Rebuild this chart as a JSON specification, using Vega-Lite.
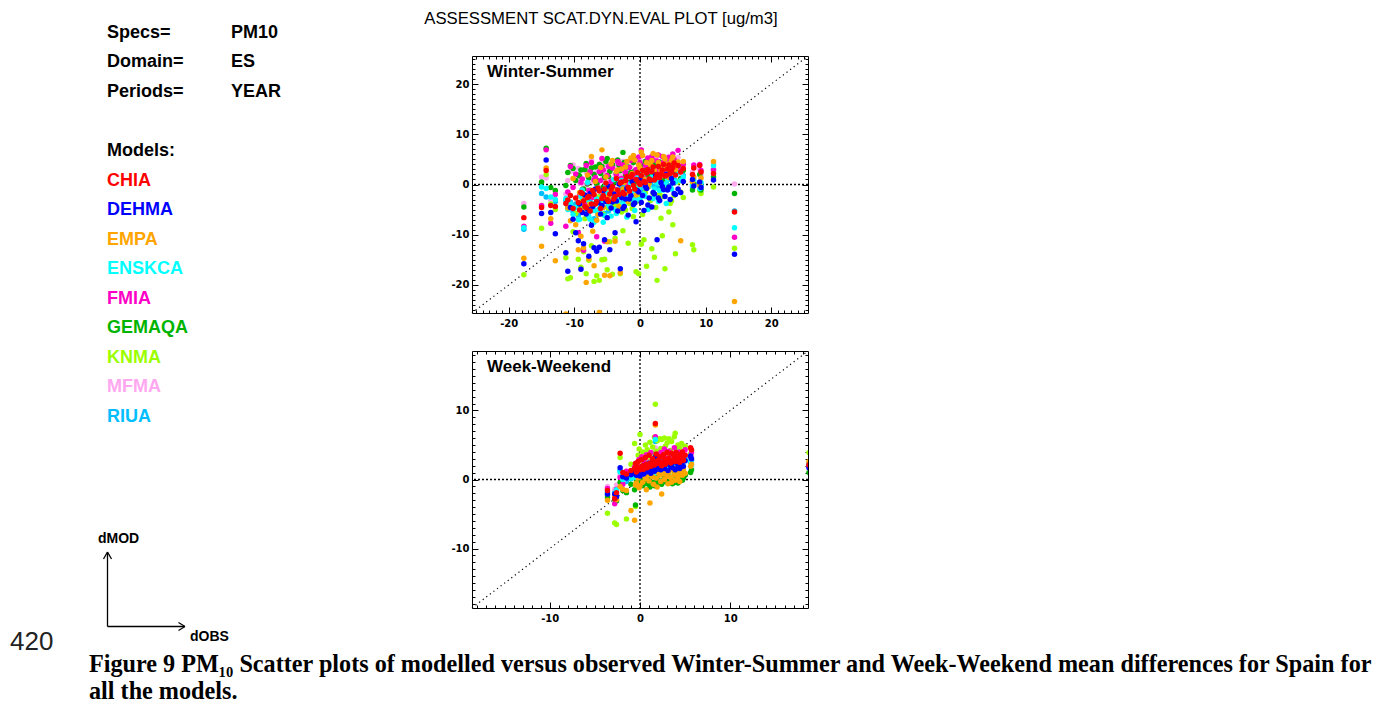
{
"$schema": "https://vega.github.io/schema/vega-lite/v6.json",
"padding": 0,
"bounds": "flush",
"spacing": 42,
"config": {
  "view": {"stroke": "black", "strokeWidth": 1},
  "axis": {"grid": false, "domain": false, "tickColor": "black", "tickWidth": 1, "labelColor": "black", "labelFont": "DejaVu Sans", "labelFontSize": 10, "labelFontWeight": "bold"}
},
"datasets": {
  "ws": [
    {"obs":-17.7,"CHIA":-6.6,"DEHMA":-15.8,"EMPA":-14.7,"ENSKCA":-8.6,"FMIA":-8.3,"GEMAQA":-4.5,"KNMA":-18.0,"MFMA":-3.8,"RIUA":-8.9},
    {"obs":-15.0,"CHIA":-4.6,"DEHMA":-5.8,"EMPA":-12.3,"ENSKCA":-0.5,"FMIA":-4.2,"GEMAQA":0.5,"KNMA":-8.7,"MFMA":1.5,"RIUA":-1.8},
    {"obs":-14.3,"CHIA":2.8,"DEHMA":4.9,"EMPA":3.3,"ENSKCA":-0.8,"FMIA":6.9,"GEMAQA":7.2,"KNMA":2.0,"MFMA":1.3,"RIUA":-2.5},
    {"obs":-13.6,"CHIA":-4.2,"DEHMA":-5.6,"EMPA":-6.8,"ENSKCA":-2.5,"FMIA":-7.7,"GEMAQA":-0.6,"KNMA":-3.9,"MFMA":-3.1,"RIUA":-2.9},
    {"obs":-12.9,"CHIA":-4.4,"DEHMA":-9.8,"EMPA":-15.2,"ENSKCA":-3.0,"FMIA":-2.0,"GEMAQA":-1.2,"KNMA":-5.0,"MFMA":-1.5,"RIUA":-3.4},
    {"obs":-11.3,"CHIA":-3.8,"DEHMA":-13.6,"EMPA":-25.8,"ENSKCA":-2.8,"FMIA":-8.3,"GEMAQA":-0.2,"KNMA":-14.6,"MFMA":-1.9,"RIUA":-3.2},
    {"obs":-11.0,"CHIA":-3.1,"DEHMA":-17.3,"EMPA":-4.7,"ENSKCA":-5.0,"FMIA":-1.5,"GEMAQA":2.4,"KNMA":-18.8,"MFMA":0.8,"RIUA":-4.4},
    {"obs":-10.6,"CHIA":-2.2,"DEHMA":-4.6,"EMPA":-7.2,"ENSKCA":-3.9,"FMIA":3.6,"GEMAQA":3.8,"KNMA":-18.6,"MFMA":2.6,"RIUA":-3.5},
    {"obs":-10.2,"CHIA":-4.8,"DEHMA":-6.9,"EMPA":1.2,"ENSKCA":-6.0,"FMIA":-0.6,"GEMAQA":3.2,"KNMA":-9.4,"MFMA":3.9,"RIUA":-5.4},
    {"obs":-9.8,"CHIA":-2.7,"DEHMA":-9.6,"EMPA":-8.0,"ENSKCA":-4.6,"FMIA":2.1,"GEMAQA":0.8,"KNMA":-5.8,"MFMA":1.4,"RIUA":-3.9},
    {"obs":-9.4,"CHIA":-3.6,"DEHMA":-11.2,"EMPA":-13.0,"ENSKCA":-7.0,"FMIA":-9.6,"GEMAQA":1.9,"KNMA":-14.9,"MFMA":3.2,"RIUA":-6.2},
    {"obs":-9.0,"CHIA":-1.6,"DEHMA":-16.9,"EMPA":-10.3,"ENSKCA":-2.4,"FMIA":0.4,"GEMAQA":2.9,"KNMA":-16.5,"MFMA":1.0,"RIUA":-2.0},
    {"obs":-8.6,"CHIA":-3.3,"DEHMA":-11.8,"EMPA":-12.6,"ENSKCA":-5.2,"FMIA":-13.1,"GEMAQA":-0.9,"KNMA":-13.4,"MFMA":-0.2,"RIUA":-4.8},
    {"obs":-8.2,"CHIA":-4.6,"DEHMA":-5.9,"EMPA":-19.5,"ENSKCA":-3.0,"FMIA":3.8,"GEMAQA":4.2,"KNMA":-17.8,"MFMA":2.4,"RIUA":-3.7},
    {"obs":-7.8,"CHIA":-2.4,"DEHMA":-14.3,"EMPA":-14.8,"ENSKCA":-6.4,"FMIA":-1.2,"GEMAQA":1.3,"KNMA":-15.1,"MFMA":3.0,"RIUA":-5.6},
    {"obs":-7.4,"CHIA":-3.9,"DEHMA":-8.1,"EMPA":5.6,"ENSKCA":-4.1,"FMIA":4.4,"GEMAQA":3.3,"KNMA":-12.2,"MFMA":4.8,"RIUA":-4.3},
    {"obs":-7.0,"CHIA":-2.0,"DEHMA":-12.6,"EMPA":-16.2,"ENSKCA":-7.5,"FMIA":0.9,"GEMAQA":2.0,"KNMA":-19.3,"MFMA":1.8,"RIUA":-6.8},
    {"obs":-6.6,"CHIA":-3.4,"DEHMA":-13.3,"EMPA":-7.1,"ENSKCA":-2.9,"FMIA":-10.4,"GEMAQA":0.2,"KNMA":-18.2,"MFMA":0.6,"RIUA":-3.1},
    {"obs":-6.2,"CHIA":-1.3,"DEHMA":-12.5,"EMPA":-25.5,"ENSKCA":-5.5,"FMIA":2.6,"GEMAQA":4.0,"KNMA":-19.1,"MFMA":3.5,"RIUA":-4.9},
    {"obs":-5.8,"CHIA":-2.8,"DEHMA":-4.2,"EMPA":6.9,"ENSKCA":-3.6,"FMIA":5.2,"GEMAQA":3.6,"KNMA":-15.0,"MFMA":4.1,"RIUA":-3.2},
    {"obs":-5.4,"CHIA":-0.9,"DEHMA":-11.0,"EMPA":-18.1,"ENSKCA":-6.2,"FMIA":-11.3,"GEMAQA":1.4,"KNMA":-14.9,"MFMA":2.2,"RIUA":-5.8},
    {"obs":-5.0,"CHIA":-3.0,"DEHMA":-6.6,"EMPA":-11.4,"ENSKCA":-1.9,"FMIA":1.8,"GEMAQA":5.2,"KNMA":-17.0,"MFMA":3.9,"RIUA":-2.3},
    {"obs":-4.6,"CHIA":-1.9,"DEHMA":-13.0,"EMPA":-18.2,"ENSKCA":-4.4,"FMIA":0.0,"GEMAQA":2.6,"KNMA":-11.4,"MFMA":1.2,"RIUA":-4.0},
    {"obs":-4.2,"CHIA":-0.4,"DEHMA":-3.5,"EMPA":4.8,"ENSKCA":-2.6,"FMIA":3.3,"GEMAQA":3.9,"KNMA":-17.9,"MFMA":4.4,"RIUA":-2.9},
    {"obs":-3.8,"CHIA":-2.4,"DEHMA":-9.6,"EMPA":-11.3,"ENSKCA":-5.0,"FMIA":-1.4,"GEMAQA":0.9,"KNMA":-10.7,"MFMA":2.0,"RIUA":-4.6},
    {"obs":-3.4,"CHIA":-1.1,"DEHMA":-5.3,"EMPA":2.9,"ENSKCA":-3.3,"FMIA":4.6,"GEMAQA":4.9,"KNMA":-3.6,"MFMA":3.1,"RIUA":-2.7},
    {"obs":-3.0,"CHIA":0.3,"DEHMA":-16.8,"EMPA":-17.6,"ENSKCA":-1.5,"FMIA":1.1,"GEMAQA":2.8,"KNMA":-17.8,"MFMA":1.9,"RIUA":-1.2},
    {"obs":-2.6,"CHIA":-1.6,"DEHMA":-4.8,"EMPA":-0.9,"ENSKCA":-3.9,"FMIA":3.9,"GEMAQA":6.4,"KNMA":-9.2,"MFMA":4.6,"RIUA":-3.5},
    {"obs":-2.2,"CHIA":0.8,"DEHMA":-2.9,"EMPA":3.5,"ENSKCA":-1.0,"FMIA":2.4,"GEMAQA":1.8,"KNMA":-5.1,"MFMA":2.8,"RIUA":-0.6},
    {"obs":-1.8,"CHIA":-0.6,"DEHMA":-6.1,"EMPA":-3.4,"ENSKCA":-2.5,"FMIA":-0.8,"GEMAQA":3.5,"KNMA":-11.7,"MFMA":0.7,"RIUA":-2.2},
    {"obs":-1.4,"CHIA":1.5,"DEHMA":-2.2,"EMPA":5.3,"ENSKCA":0.2,"FMIA":4.8,"GEMAQA":2.4,"KNMA":-2.8,"MFMA":3.6,"RIUA":0.6},
    {"obs":-1.0,"CHIA":-0.2,"DEHMA":-4.0,"EMPA":5.8,"ENSKCA":-1.6,"FMIA":1.6,"GEMAQA":4.4,"KNMA":-6.4,"MFMA":2.5,"RIUA":-1.3},
    {"obs":-0.6,"CHIA":1.0,"DEHMA":-7.4,"EMPA":-2.1,"ENSKCA":-3.0,"FMIA":3.0,"GEMAQA":0.6,"KNMA":-17.4,"MFMA":1.6,"RIUA":-2.6},
    {"obs":-0.2,"CHIA":0.4,"DEHMA":-1.5,"EMPA":3.9,"ENSKCA":-0.7,"FMIA":5.5,"GEMAQA":2.2,"KNMA":-17.8,"MFMA":4.3,"RIUA":-0.3},
    {"obs":0.2,"CHIA":1.8,"DEHMA":-3.6,"EMPA":6.5,"ENSKCA":0.6,"FMIA":6.9,"GEMAQA":3.9,"KNMA":-11.9,"MFMA":2.9,"RIUA":0.9},
    {"obs":0.6,"CHIA":0.6,"DEHMA":-5.2,"EMPA":1.1,"ENSKCA":-1.9,"FMIA":2.0,"GEMAQA":1.3,"KNMA":-11.0,"MFMA":1.0,"RIUA":-1.5},
    {"obs":1.0,"CHIA":2.3,"DEHMA":-0.8,"EMPA":4.4,"ENSKCA":0.9,"FMIA":4.1,"GEMAQA":3.0,"KNMA":-16.3,"MFMA":4.9,"RIUA":1.2},
    {"obs":1.4,"CHIA":1.1,"DEHMA":-2.7,"EMPA":0.2,"ENSKCA":-0.4,"FMIA":3.5,"GEMAQA":5.0,"KNMA":-4.6,"MFMA":2.2,"RIUA":0.0},
    {"obs":1.8,"CHIA":2.6,"DEHMA":-4.5,"EMPA":4.8,"ENSKCA":1.4,"FMIA":5.6,"GEMAQA":2.5,"KNMA":-12.8,"MFMA":4.8,"RIUA":1.7},
    {"obs":2.2,"CHIA":0.9,"DEHMA":-1.9,"EMPA":2.7,"ENSKCA":-0.9,"FMIA":1.3,"GEMAQA":3.8,"KNMA":-14.5,"MFMA":3.3,"RIUA":-0.5},
    {"obs":2.6,"CHIA":2.0,"DEHMA":-11.0,"EMPA":5.9,"ENSKCA":0.3,"FMIA":4.7,"GEMAQA":1.6,"KNMA":-19.1,"MFMA":2.1,"RIUA":0.6},
    {"obs":3.0,"CHIA":1.4,"DEHMA":-3.2,"EMPA":3.6,"ENSKCA":-1.2,"FMIA":2.8,"GEMAQA":4.5,"KNMA":-2.0,"MFMA":4.0,"RIUA":-0.8},
    {"obs":3.4,"CHIA":2.9,"DEHMA":-0.4,"EMPA":1.9,"ENSKCA":1.8,"FMIA":5.6,"GEMAQA":2.9,"KNMA":-10.2,"MFMA":3.2,"RIUA":2.1},
    {"obs":3.8,"CHIA":1.7,"DEHMA":-2.4,"EMPA":5.1,"ENSKCA":0.1,"FMIA":3.7,"GEMAQA":1.0,"KNMA":-16.8,"MFMA":1.5,"RIUA":0.4},
    {"obs":4.2,"CHIA":3.1,"DEHMA":-1.1,"EMPA":4.1,"ENSKCA":1.0,"FMIA":4.9,"GEMAQA":3.3,"KNMA":1.2,"MFMA":5.2,"RIUA":1.4},
    {"obs":4.6,"CHIA":2.2,"DEHMA":-3.0,"EMPA":2.3,"ENSKCA":-0.6,"FMIA":2.2,"GEMAQA":4.1,"KNMA":-3.8,"MFMA":2.7,"RIUA":-0.2},
    {"obs":5.0,"CHIA":3.4,"DEHMA":0.3,"EMPA":5.5,"ENSKCA":1.9,"FMIA":6.1,"GEMAQA":1.9,"KNMA":-8.0,"MFMA":4.4,"RIUA":2.3},
    {"obs":5.4,"CHIA":1.9,"DEHMA":-2.0,"EMPA":3.0,"ENSKCA":0.5,"FMIA":3.6,"GEMAQA":2.6,"KNMA":-13.8,"MFMA":3.8,"RIUA":0.8},
    {"obs":5.8,"CHIA":3.8,"DEHMA":-0.9,"EMPA":4.5,"ENSKCA":2.4,"FMIA":6.8,"GEMAQA":3.7,"KNMA":0.5,"MFMA":5.4,"RIUA":2.6},
    {"obs":6.2,"CHIA":2.5,"DEHMA":-1.6,"EMPA":-11.2,"ENSKCA":0.8,"FMIA":2.9,"GEMAQA":1.2,"KNMA":-1.5,"MFMA":2.0,"RIUA":1.1},
    {"obs":6.6,"CHIA":3.2,"DEHMA":0.6,"EMPA":4.6,"ENSKCA":1.5,"FMIA":4.0,"GEMAQA":2.8,"KNMA":-2.6,"MFMA":4.3,"RIUA":1.8},
    {"obs":8.0,"CHIA":2.0,"DEHMA":1.0,"EMPA":0.5,"ENSKCA":0.0,"FMIA":0.6,"GEMAQA":-1.1,"KNMA":-12.0,"MFMA":2.5,"RIUA":-0.4},
    {"obs":8.2,"CHIA":3.3,"DEHMA":-0.3,"EMPA":1.5,"ENSKCA":0.9,"FMIA":3.9,"GEMAQA":0.2,"KNMA":-13.0,"MFMA":3.5,"RIUA":0.3},
    {"obs":9.1,"CHIA":3.8,"DEHMA":0.5,"EMPA":-0.2,"ENSKCA":-0.8,"FMIA":4.0,"GEMAQA":2.0,"KNMA":-1.2,"MFMA":3.0,"RIUA":0.2},
    {"obs":9.3,"CHIA":2.5,"DEHMA":-0.6,"EMPA":1.3,"ENSKCA":0.4,"FMIA":2.8,"GEMAQA":-1.1,"KNMA":-1.8,"MFMA":1.9,"RIUA":-0.1},
    {"obs":11.2,"CHIA":2.2,"DEHMA":0.9,"EMPA":4.6,"ENSKCA":3.8,"FMIA":2.9,"GEMAQA":1.5,"KNMA":-0.5,"MFMA":4.1,"RIUA":3.0},
    {"obs":14.4,"CHIA":-5.5,"DEHMA":-13.9,"EMPA":-23.3,"ENSKCA":-8.6,"FMIA":-10.5,"GEMAQA":-1.8,"KNMA":-12.7,"MFMA":0.1,"RIUA":-5.3},
    {"obs":-9.2,"CHIA":-5.1,"DEHMA":-3.9,"EMPA":-1.6,"ENSKCA":-6.9,"FMIA":-2.0,"GEMAQA":1.7,"KNMA":-4.6,"MFMA":0.4,"RIUA":-4.2},
    {"obs":-8.8,"CHIA":-1.8,"DEHMA":-5.6,"EMPA":-5.3,"ENSKCA":-1.1,"FMIA":1.1,"GEMAQA":-1.0,"KNMA":-2.9,"MFMA":2.9,"RIUA":-5.0},
    {"obs":-8.4,"CHIA":-4.4,"DEHMA":-2.1,"EMPA":-2.8,"ENSKCA":-4.6,"FMIA":-4.0,"GEMAQA":3.0,"KNMA":-6.8,"MFMA":-0.7,"RIUA":-3.1},
    {"obs":-8.0,"CHIA":-2.6,"DEHMA":-4.9,"EMPA":1.9,"ENSKCA":0.4,"FMIA":0.3,"GEMAQA":0.1,"KNMA":-3.9,"MFMA":1.6,"RIUA":-6.4},
    {"obs":-7.6,"CHIA":-5.3,"DEHMA":-1.8,"EMPA":-4.1,"ENSKCA":-6.9,"FMIA":2.5,"GEMAQA":2.5,"KNMA":-1.1,"MFMA":3.7,"RIUA":-2.9},
    {"obs":-7.2,"CHIA":-1.2,"DEHMA":-4.4,"EMPA":-9.3,"ENSKCA":-3.8,"FMIA":-2.6,"GEMAQA":-1.6,"KNMA":-4.4,"MFMA":0.5,"RIUA":-5.2},
    {"obs":-6.8,"CHIA":-3.9,"DEHMA":-0.9,"EMPA":0.6,"ENSKCA":-5.2,"FMIA":1.4,"GEMAQA":3.5,"KNMA":-5.2,"MFMA":2.3,"RIUA":-3.8},
    {"obs":-6.4,"CHIA":-0.7,"DEHMA":-3.6,"EMPA":-6.0,"ENSKCA":-0.7,"FMIA":-3.3,"GEMAQA":0.7,"KNMA":-2.5,"MFMA":-0.4,"RIUA":-6.0},
    {"obs":-6.0,"CHIA":-4.8,"DEHMA":-5.9,"EMPA":3.4,"ENSKCA":-4.4,"FMIA":0.8,"GEMAQA":2.2,"KNMA":-3.0,"MFMA":4.2,"RIUA":-2.4},
    {"obs":-5.6,"CHIA":-2.2,"DEHMA":-1.2,"EMPA":-4.6,"ENSKCA":-7.5,"FMIA":2.9,"GEMAQA":-0.5,"KNMA":-5.9,"MFMA":1.3,"RIUA":-4.5},
    {"obs":-5.2,"CHIA":0.3,"DEHMA":-3.4,"EMPA":1.5,"ENSKCA":0.0,"FMIA":-2.2,"GEMAQA":4.6,"KNMA":-0.8,"MFMA":2.7,"RIUA":-1.6},
    {"obs":-4.8,"CHIA":-3.4,"DEHMA":-0.4,"EMPA":-2.5,"ENSKCA":-4.0,"FMIA":3.6,"GEMAQA":1.6,"KNMA":-4.7,"MFMA":-0.1,"RIUA":-5.3},
    {"obs":-4.4,"CHIA":-1.0,"DEHMA":-4.7,"EMPA":4.1,"ENSKCA":-6.3,"FMIA":0.6,"GEMAQA":3.1,"KNMA":-1.5,"MFMA":3.4,"RIUA":-2.1},
    {"obs":-4.0,"CHIA":-2.9,"DEHMA":-1.9,"EMPA":-1.2,"ENSKCA":1.0,"FMIA":-0.9,"GEMAQA":0.4,"KNMA":-4.2,"MFMA":1.0,"RIUA":-3.6},
    {"obs":-3.6,"CHIA":1.2,"DEHMA":-3.3,"EMPA":2.6,"ENSKCA":-5.8,"FMIA":2.0,"GEMAQA":2.2,"KNMA":-4.0,"MFMA":4.0,"RIUA":-1.0},
    {"obs":-3.2,"CHIA":-2.0,"DEHMA":0.1,"EMPA":-4.4,"ENSKCA":-2.5,"FMIA":4.2,"GEMAQA":3.9,"KNMA":-2.1,"MFMA":2.1,"RIUA":-2.7},
    {"obs":-2.8,"CHIA":0.5,"DEHMA":-2.6,"EMPA":3.1,"ENSKCA":0.8,"FMIA":1.2,"GEMAQA":1.0,"KNMA":-5.5,"MFMA":0.6,"RIUA":-0.4},
    {"obs":-2.4,"CHIA":-1.9,"DEHMA":-4.4,"EMPA":0.4,"ENSKCA":-4.3,"FMIA":2.8,"GEMAQA":4.4,"KNMA":-2.4,"MFMA":3.9,"RIUA":-3.0},
    {"obs":-2.0,"CHIA":1.6,"DEHMA":-0.8,"EMPA":4.6,"ENSKCA":-6.5,"FMIA":0.2,"GEMAQA":2.1,"KNMA":-1.3,"MFMA":1.5,"RIUA":-1.9},
    {"obs":-1.6,"CHIA":-1.3,"DEHMA":-2.9,"EMPA":-1.8,"ENSKCA":1.5,"FMIA":3.4,"GEMAQA":0.4,"KNMA":-3.8,"MFMA":2.6,"RIUA":0.1},
    {"obs":-1.2,"CHIA":2.0,"DEHMA":0.6,"EMPA":2.2,"ENSKCA":-3.2,"FMIA":1.5,"GEMAQA":5.1,"KNMA":-4.8,"MFMA":4.2,"RIUA":-1.4},
    {"obs":-0.8,"CHIA":-0.9,"DEHMA":-3.7,"EMPA":4.9,"ENSKCA":-5.2,"FMIA":5.0,"GEMAQA":2.7,"KNMA":-0.5,"MFMA":0.9,"RIUA":-2.5},
    {"obs":-0.4,"CHIA":2.4,"DEHMA":-1.2,"EMPA":0.9,"ENSKCA":1.3,"FMIA":2.3,"GEMAQA":1.1,"KNMA":-3.3,"MFMA":3.0,"RIUA":0.8},
    {"obs":0.0,"CHIA":0.0,"DEHMA":1.0,"EMPA":3.3,"ENSKCA":-3.0,"FMIA":4.4,"GEMAQA":3.6,"KNMA":-2.1,"MFMA":5.1,"RIUA":-0.8},
    {"obs":0.4,"CHIA":2.8,"DEHMA":-2.2,"EMPA":5.8,"ENSKCA":2.2,"FMIA":1.7,"GEMAQA":0.9,"KNMA":-6.0,"MFMA":2.4,"RIUA":1.5},
    {"obs":0.8,"CHIA":0.4,"DEHMA":-0.3,"EMPA":2.5,"ENSKCA":-2.4,"FMIA":3.8,"GEMAQA":4.6,"KNMA":-1.6,"MFMA":3.6,"RIUA":-0.6},
    {"obs":1.2,"CHIA":3.0,"DEHMA":-4.1,"EMPA":-0.5,"ENSKCA":-5.0,"FMIA":5.3,"GEMAQA":2.0,"KNMA":0.9,"MFMA":1.3,"RIUA":2.0},
    {"obs":1.6,"CHIA":0.9,"DEHMA":0.8,"EMPA":3.9,"ENSKCA":3.0,"FMIA":2.6,"GEMAQA":3.4,"KNMA":-3.2,"MFMA":4.5,"RIUA":0.2},
    {"obs":2.0,"CHIA":3.5,"DEHMA":-1.6,"EMPA":6.2,"ENSKCA":-2.8,"FMIA":4.9,"GEMAQA":1.4,"KNMA":-1.8,"MFMA":2.8,"RIUA":1.9},
    {"obs":2.4,"CHIA":1.3,"DEHMA":1.9,"EMPA":1.6,"ENSKCA":0.6,"FMIA":1.8,"GEMAQA":4.2,"KNMA":-4.6,"MFMA":5.0,"RIUA":-0.2},
    {"obs":2.8,"CHIA":3.6,"DEHMA":-2.7,"EMPA":4.4,"ENSKCA":-3.4,"FMIA":5.9,"GEMAQA":2.4,"KNMA":0.9,"MFMA":3.4,"RIUA":2.5},
    {"obs":3.2,"CHIA":2.1,"DEHMA":0.4,"EMPA":2.8,"ENSKCA":3.5,"FMIA":3.1,"GEMAQA":0.6,"KNMA":-6.7,"MFMA":1.8,"RIUA":0.7},
    {"obs":3.6,"CHIA":4.0,"DEHMA":-1.0,"EMPA":5.6,"ENSKCA":-1.1,"FMIA":4.5,"GEMAQA":3.9,"KNMA":-2.4,"MFMA":4.6,"RIUA":2.8},
    {"obs":4.0,"CHIA":1.8,"DEHMA":2.0,"EMPA":3.2,"ENSKCA":-3.8,"FMIA":2.4,"GEMAQA":2.1,"KNMA":-0.3,"MFMA":2.9,"RIUA":0.5},
    {"obs":4.4,"CHIA":3.9,"DEHMA":-0.5,"EMPA":1.4,"ENSKCA":2.8,"FMIA":5.4,"GEMAQA":4.8,"KNMA":-5.5,"MFMA":5.6,"RIUA":2.2},
    {"obs":4.8,"CHIA":2.6,"DEHMA":1.2,"EMPA":4.8,"ENSKCA":-0.9,"FMIA":3.3,"GEMAQA":1.0,"KNMA":-3.3,"MFMA":3.9,"RIUA":1.0},
    {"obs":5.2,"CHIA":4.3,"DEHMA":-1.8,"EMPA":3.7,"ENSKCA":0.7,"FMIA":5.0,"GEMAQA":3.0,"KNMA":-2.2,"MFMA":4.8,"RIUA":3.2}
  ],
  "ww": [
    {"obs":-3.6,"CHIA":-1.6,"DEHMA":-2.1,"EMPA":-3.0,"ENSKCA":-1.8,"FMIA":-1.3,"GEMAQA":-2.6,"KNMA":-4.9,"MFMA":-1.0,"RIUA":-2.2},
    {"obs":-2.8,"CHIA":-2.8,"DEHMA":-2.1,"EMPA":-2.4,"ENSKCA":-2.0,"FMIA":-3.5,"GEMAQA":-2.9,"KNMA":-6.3,"MFMA":-1.4,"RIUA":-1.7},
    {"obs":-2.6,"CHIA":-1.9,"DEHMA":-2.5,"EMPA":-2.9,"ENSKCA":-1.5,"FMIA":-1.4,"GEMAQA":-3.1,"KNMA":-6.5,"MFMA":-0.8,"RIUA":-2.3},
    {"obs":-2.2,"CHIA":3.8,"DEHMA":1.7,"EMPA":-1.0,"ENSKCA":1.1,"FMIA":0.3,"GEMAQA":-0.4,"KNMA":3.2,"MFMA":0.6,"RIUA":1.3},
    {"obs":-1.9,"CHIA":1.0,"DEHMA":0.4,"EMPA":-1.4,"ENSKCA":0.0,"FMIA":-0.7,"GEMAQA":-1.6,"KNMA":0.8,"MFMA":-0.2,"RIUA":0.5},
    {"obs":-1.5,"CHIA":0.8,"DEHMA":0.2,"EMPA":-1.6,"ENSKCA":0.6,"FMIA":1.2,"GEMAQA":-1.9,"KNMA":-5.7,"MFMA":0.3,"RIUA":-0.3},
    {"obs":-1.0,"CHIA":1.3,"DEHMA":0.7,"EMPA":-4.5,"ENSKCA":0.2,"FMIA":0.9,"GEMAQA":-0.7,"KNMA":2.2,"MFMA":0.5,"RIUA":0.1},
    {"obs":-0.6,"CHIA":1.6,"DEHMA":0.9,"EMPA":-5.9,"ENSKCA":0.4,"FMIA":1.8,"GEMAQA":-1.5,"KNMA":5.2,"MFMA":1.1,"RIUA":0.6},
    {"obs":-0.5,"CHIA":2.3,"DEHMA":1.4,"EMPA":-0.8,"ENSKCA":1.0,"FMIA":0.5,"GEMAQA":-3.7,"KNMA":-3.9,"MFMA":1.6,"RIUA":1.2},
    {"obs":-0.4,"CHIA":1.1,"DEHMA":0.6,"EMPA":-0.5,"ENSKCA":0.3,"FMIA":2.4,"GEMAQA":-0.2,"KNMA":1.9,"MFMA":0.9,"RIUA":0.2},
    {"obs":-0.2,"CHIA":2.6,"DEHMA":1.5,"EMPA":0.2,"ENSKCA":1.4,"FMIA":1.0,"GEMAQA":-0.8,"KNMA":3.5,"MFMA":1.9,"RIUA":1.6},
    {"obs":-0.1,"CHIA":1.8,"DEHMA":1.0,"EMPA":-1.2,"ENSKCA":0.8,"FMIA":2.9,"GEMAQA":0.4,"KNMA":4.4,"MFMA":1.3,"RIUA":0.9},
    {"obs":0.0,"CHIA":1.4,"DEHMA":0.5,"EMPA":-0.9,"ENSKCA":0.9,"FMIA":1.6,"GEMAQA":-0.5,"KNMA":6.5,"MFMA":0.7,"RIUA":1.1},
    {"obs":0.2,"CHIA":2.9,"DEHMA":1.9,"EMPA":0.6,"ENSKCA":1.7,"FMIA":3.3,"GEMAQA":0.1,"KNMA":2.7,"MFMA":2.2,"RIUA":2.0},
    {"obs":0.3,"CHIA":2.0,"DEHMA":1.2,"EMPA":-0.4,"ENSKCA":0.6,"FMIA":1.4,"GEMAQA":-0.9,"KNMA":4.0,"MFMA":1.0,"RIUA":0.8},
    {"obs":0.4,"CHIA":1.5,"DEHMA":0.8,"EMPA":0.9,"ENSKCA":1.2,"FMIA":2.7,"GEMAQA":0.6,"KNMA":3.1,"MFMA":1.8,"RIUA":1.4},
    {"obs":0.6,"CHIA":3.2,"DEHMA":2.1,"EMPA":0.1,"ENSKCA":2.0,"FMIA":1.9,"GEMAQA":-0.3,"KNMA":5.0,"MFMA":2.6,"RIUA":2.3},
    {"obs":0.7,"CHIA":2.2,"DEHMA":1.1,"EMPA":-1.5,"ENSKCA":0.9,"FMIA":3.6,"GEMAQA":0.8,"KNMA":2.4,"MFMA":1.2,"RIUA":1.0},
    {"obs":0.8,"CHIA":1.7,"DEHMA":1.6,"EMPA":0.5,"ENSKCA":1.5,"FMIA":0.8,"GEMAQA":-0.6,"KNMA":4.3,"MFMA":2.0,"RIUA":1.8},
    {"obs":1.0,"CHIA":3.5,"DEHMA":2.3,"EMPA":-0.2,"ENSKCA":2.4,"FMIA":2.5,"GEMAQA":0.3,"KNMA":3.6,"MFMA":2.8,"RIUA":2.6},
    {"obs":1.1,"CHIA":2.4,"DEHMA":1.3,"EMPA":-3.4,"ENSKCA":1.1,"FMIA":1.3,"GEMAQA":-1.1,"KNMA":5.4,"MFMA":1.4,"RIUA":1.2},
    {"obs":1.2,"CHIA":1.9,"DEHMA":0.9,"EMPA":1.2,"ENSKCA":1.8,"FMIA":3.9,"GEMAQA":0.9,"KNMA":2.9,"MFMA":2.5,"RIUA":2.1},
    {"obs":1.4,"CHIA":3.0,"DEHMA":2.0,"EMPA":0.4,"ENSKCA":1.3,"FMIA":2.1,"GEMAQA":-0.4,"KNMA":4.7,"MFMA":1.7,"RIUA":1.5},
    {"obs":1.5,"CHIA":2.6,"DEHMA":1.7,"EMPA":-0.7,"ENSKCA":2.2,"FMIA":1.5,"GEMAQA":0.5,"KNMA":3.8,"MFMA":3.0,"RIUA":2.4},
    {"obs":1.6,"CHIA":2.1,"DEHMA":1.2,"EMPA":1.5,"ENSKCA":0.9,"FMIA":3.0,"GEMAQA":-0.9,"KNMA":6.1,"MFMA":2.3,"RIUA":1.1},
    {"obs":1.7,"CHIA":8.1,"DEHMA":3.3,"EMPA":7.9,"ENSKCA":5.8,"FMIA":6.2,"GEMAQA":2.0,"KNMA":10.9,"MFMA":4.6,"RIUA":5.5},
    {"obs":1.8,"CHIA":3.7,"DEHMA":2.5,"EMPA":0.2,"ENSKCA":2.6,"FMIA":2.4,"GEMAQA":0.2,"KNMA":4.1,"MFMA":2.9,"RIUA":2.8},
    {"obs":1.9,"CHIA":2.3,"DEHMA":1.5,"EMPA":-1.1,"ENSKCA":1.6,"FMIA":1.1,"GEMAQA":-0.5,"KNMA":5.6,"MFMA":1.9,"RIUA":1.7},
    {"obs":2.0,"CHIA":2.8,"DEHMA":1.9,"EMPA":1.0,"ENSKCA":2.1,"FMIA":3.4,"GEMAQA":0.7,"KNMA":3.3,"MFMA":2.4,"RIUA":2.2},
    {"obs":2.2,"CHIA":3.3,"DEHMA":2.2,"EMPA":0.6,"ENSKCA":1.4,"FMIA":2.0,"GEMAQA":-0.2,"KNMA":5.9,"MFMA":3.2,"RIUA":1.9},
    {"obs":2.3,"CHIA":2.5,"DEHMA":1.4,"EMPA":-0.3,"ENSKCA":2.5,"FMIA":3.9,"GEMAQA":1.0,"KNMA":4.5,"MFMA":2.1,"RIUA":2.6},
    {"obs":2.4,"CHIA":2.0,"DEHMA":1.8,"EMPA":-2.1,"ENSKCA":1.2,"FMIA":1.6,"GEMAQA":-0.7,"KNMA":5.8,"MFMA":1.6,"RIUA":1.4},
    {"obs":2.6,"CHIA":3.6,"DEHMA":2.6,"EMPA":0.8,"ENSKCA":2.3,"FMIA":2.9,"GEMAQA":-0.1,"KNMA":3.9,"MFMA":2.7,"RIUA":2.5},
    {"obs":2.7,"CHIA":2.9,"DEHMA":1.6,"EMPA":0.0,"ENSKCA":1.7,"FMIA":4.4,"GEMAQA":0.4,"KNMA":6.0,"MFMA":3.4,"RIUA":1.8},
    {"obs":2.8,"CHIA":2.2,"DEHMA":2.1,"EMPA":1.3,"ENSKCA":2.8,"FMIA":1.8,"GEMAQA":-0.3,"KNMA":4.8,"MFMA":2.2,"RIUA":2.9},
    {"obs":3.0,"CHIA":3.9,"DEHMA":2.4,"EMPA":0.5,"ENSKCA":1.9,"FMIA":3.1,"GEMAQA":-0.4,"KNMA":5.3,"MFMA":3.0,"RIUA":2.0},
    {"obs":3.1,"CHIA":2.7,"DEHMA":1.3,"EMPA":-0.6,"ENSKCA":2.4,"FMIA":2.3,"GEMAQA":0.6,"KNMA":3.7,"MFMA":2.0,"RIUA":2.4},
    {"obs":3.2,"CHIA":3.1,"DEHMA":2.7,"EMPA":1.1,"ENSKCA":1.5,"FMIA":4.1,"GEMAQA":-0.5,"KNMA":5.9,"MFMA":3.6,"RIUA":1.6},
    {"obs":3.4,"CHIA":2.4,"DEHMA":1.9,"EMPA":0.3,"ENSKCA":2.7,"FMIA":2.6,"GEMAQA":0.0,"KNMA":4.2,"MFMA":2.5,"RIUA":2.7},
    {"obs":3.5,"CHIA":3.8,"DEHMA":2.2,"EMPA":-0.4,"ENSKCA":2.0,"FMIA":3.5,"GEMAQA":-0.2,"KNMA":5.5,"MFMA":2.9,"RIUA":2.2},
    {"obs":3.6,"CHIA":2.8,"DEHMA":1.7,"EMPA":1.4,"ENSKCA":2.9,"FMIA":1.9,"GEMAQA":-0.6,"KNMA":3.5,"MFMA":3.3,"RIUA":3.0},
    {"obs":3.8,"CHIA":3.4,"DEHMA":2.8,"EMPA":0.7,"ENSKCA":2.2,"FMIA":4.6,"GEMAQA":0.8,"KNMA":6.2,"MFMA":2.3,"RIUA":1.9},
    {"obs":3.9,"CHIA":2.6,"DEHMA":1.4,"EMPA":-0.1,"ENSKCA":1.8,"FMIA":2.8,"GEMAQA":-0.4,"KNMA":6.7,"MFMA":3.1,"RIUA":2.5},
    {"obs":4.0,"CHIA":3.9,"DEHMA":2.5,"EMPA":1.6,"ENSKCA":3.0,"FMIA":3.3,"GEMAQA":0.3,"KNMA":4.4,"MFMA":2.6,"RIUA":2.8},
    {"obs":4.2,"CHIA":2.9,"DEHMA":2.0,"EMPA":0.4,"ENSKCA":2.1,"FMIA":2.2,"GEMAQA":-0.5,"KNMA":5.0,"MFMA":3.4,"RIUA":2.3},
    {"obs":4.3,"CHIA":3.6,"DEHMA":2.9,"EMPA":1.0,"ENSKCA":2.6,"FMIA":4.0,"GEMAQA":0.9,"KNMA":3.9,"MFMA":2.8,"RIUA":3.1},
    {"obs":4.4,"CHIA":2.5,"DEHMA":1.6,"EMPA":-0.3,"ENSKCA":1.9,"FMIA":3.0,"GEMAQA":-0.2,"KNMA":4.6,"MFMA":2.4,"RIUA":2.0},
    {"obs":4.6,"CHIA":3.3,"DEHMA":2.3,"EMPA":1.2,"ENSKCA":3.1,"FMIA":2.5,"GEMAQA":0.5,"KNMA":5.2,"MFMA":3.5,"RIUA":2.9},
    {"obs":4.7,"CHIA":4.0,"DEHMA":2.6,"EMPA":0.6,"ENSKCA":2.4,"FMIA":3.8,"GEMAQA":-0.1,"KNMA":4.0,"MFMA":3.0,"RIUA":2.6},
    {"obs":4.8,"CHIA":2.8,"DEHMA":1.9,"EMPA":1.5,"ENSKCA":2.0,"FMIA":2.7,"GEMAQA":0.2,"KNMA":3.4,"MFMA":2.2,"RIUA":2.4},
    {"obs":5.0,"CHIA":3.5,"DEHMA":2.7,"EMPA":0.9,"ENSKCA":2.8,"FMIA":4.3,"GEMAQA":0.6,"KNMA":4.8,"MFMA":3.7,"RIUA":3.2},
    {"obs":5.6,"CHIA":4.6,"DEHMA":3.4,"EMPA":1.9,"ENSKCA":2.7,"FMIA":3.2,"GEMAQA":1.0,"KNMA":3.7,"MFMA":2.9,"RIUA":2.5},
    {"obs":5.7,"CHIA":4.3,"DEHMA":3.0,"EMPA":2.2,"ENSKCA":2.1,"FMIA":3.9,"GEMAQA":1.4,"KNMA":4.2,"MFMA":3.3,"RIUA":2.8},
    {"obs":18.7,"CHIA":2.1,"DEHMA":1.7,"EMPA":2.6,"ENSKCA":2.3,"FMIA":2.0,"GEMAQA":1.0,"KNMA":3.9,"MFMA":2.4,"RIUA":1.9}
  ],
  "lbl": [
    {"t":"Specs=","x":107,"y":37.5,"k":"L","c":"label"},
    {"t":"PM10","x":231,"y":37.5,"k":"L","c":"label"},
    {"t":"Domain=","x":107,"y":67,"k":"L","c":"label"},
    {"t":"ES","x":231,"y":67,"k":"L","c":"label"},
    {"t":"Periods=","x":107,"y":96.5,"k":"L","c":"label"},
    {"t":"YEAR","x":231,"y":96.5,"k":"L","c":"label"},
    {"t":"Models:","x":107,"y":156,"k":"L","c":"label"},
    {"t":"CHIA","x":107,"y":185.5,"k":"L","c":"CHIA"},
    {"t":"DEHMA","x":107,"y":215,"k":"L","c":"DEHMA"},
    {"t":"EMPA","x":107,"y":244.5,"k":"L","c":"EMPA"},
    {"t":"ENSKCA","x":107,"y":274,"k":"L","c":"ENSKCA"},
    {"t":"FMIA","x":107,"y":303.5,"k":"L","c":"FMIA"},
    {"t":"GEMAQA","x":107,"y":333,"k":"L","c":"GEMAQA"},
    {"t":"KNMA","x":107,"y":362.5,"k":"L","c":"KNMA"},
    {"t":"MFMA","x":107,"y":392,"k":"L","c":"MFMA"},
    {"t":"RIUA","x":107,"y":421.5,"k":"L","c":"RIUA"},
    {"t":"dMOD","x":98,"y":543,"k":"S","c":"label"},
    {"t":"dOBS","x":190,"y":641,"k":"S","c":"label"},
    {"t":"420","x":10,"y":650,"k":"N","c":"label"},
    {"t":"Figure 9 PM₁₀ Scatter plots of modelled versus observed Winter-Summer and Week-Weekend mean differences for Spain for","x":89,"y":672,"k":"C","c":"label"},
    {"t":"all the models.","x":89,"y":699,"k":"C","c":"label"}
  ],
  "arr": [
    {"x1":107.5,"y1":552,"x2":107.5,"y2":626.5},
    {"x1":107.5,"y1":626.5,"x2":185,"y2":626.5},
    {"x1":107.5,"y1":552,"x2":103.5,"y2":559},
    {"x1":107.5,"y1":552,"x2":111.5,"y2":559},
    {"x1":185,"y1":626.5,"x2":178.5,"y2":622.5},
    {"x1":185,"y1":626.5,"x2":178.5,"y2":630.5}
  ]
},
"hconcat": [
  {
    "width": 430, "height": 707,
    "view": {"stroke": null},
    "layer": [
      {"data": {"name": "arr"},
       "mark": {"type": "rule", "color": "black", "strokeWidth": 1.3},
       "encoding": {
         "x": {"field": "x1", "type": "quantitative", "scale": {"domain": [0, 430], "nice": false, "zero": false}, "axis": null},
         "y": {"field": "y1", "type": "quantitative", "scale": {"domain": [0, 707], "reverse": true, "nice": false, "zero": false}, "axis": null},
         "x2": {"field": "x2"},
         "y2": {"field": "y2"}
       }},
      {"data": {"name": "lbl"}, "transform": [{"filter": "datum.k == 'L'"}],
       "mark": {"type": "text", "font": "Liberation Sans", "fontSize": 18, "fontWeight": "bold", "align": "left", "baseline": "alphabetic"},
       "encoding": {
         "x": {"field": "x", "type": "quantitative", "scale": {"domain": [0, 430], "nice": false, "zero": false}, "axis": null},
         "y": {"field": "y", "type": "quantitative", "scale": {"domain": [0, 707], "reverse": true, "nice": false, "zero": false}, "axis": null},
         "text": {"field": "t"},
         "color": {"field": "c", "type": "nominal", "scale": {"domain": ["CHIA","DEHMA","EMPA","ENSKCA","FMIA","GEMAQA","KNMA","MFMA","RIUA","label"], "range": ["#FF0000","#0000FF","#FFA500","#00FFFF","#FF00C8","#00B400","#9BFF00","#FFA8F0","#00BEFF","#000000"]}, "legend": null}
       }},
      {"data": {"name": "lbl"}, "transform": [{"filter": "datum.k == 'S'"}],
       "mark": {"type": "text", "font": "Liberation Sans", "fontSize": 14, "fontWeight": "bold", "align": "left", "baseline": "alphabetic", "color": "black"},
       "encoding": {
         "x": {"field": "x", "type": "quantitative", "scale": {"domain": [0, 430], "nice": false, "zero": false}, "axis": null},
         "y": {"field": "y", "type": "quantitative", "scale": {"domain": [0, 707], "reverse": true, "nice": false, "zero": false}, "axis": null},
         "text": {"field": "t"}
       }},
      {"data": {"name": "lbl"}, "transform": [{"filter": "datum.k == 'N'"}],
       "mark": {"type": "text", "font": "Liberation Sans", "fontSize": 26, "align": "left", "baseline": "alphabetic", "color": "#222222"},
       "encoding": {
         "x": {"field": "x", "type": "quantitative", "scale": {"domain": [0, 430], "nice": false, "zero": false}, "axis": null},
         "y": {"field": "y", "type": "quantitative", "scale": {"domain": [0, 707], "reverse": true, "nice": false, "zero": false}, "axis": null},
         "text": {"field": "t"}
       }},
      {"data": {"name": "lbl"}, "transform": [{"filter": "datum.k == 'C'"}],
       "mark": {"type": "text", "font": "Liberation Serif", "fontSize": 24.2, "fontWeight": "bold", "align": "left", "baseline": "alphabetic", "color": "black"},
       "encoding": {
         "x": {"field": "x", "type": "quantitative", "scale": {"domain": [0, 430], "nice": false, "zero": false}, "axis": null},
         "y": {"field": "y", "type": "quantitative", "scale": {"domain": [0, 707], "reverse": true, "nice": false, "zero": false}, "axis": null},
         "text": {"field": "t"}
       }}
    ]
  },
  {
    "bounds": "flush",
    "spacing": 38,
    "vconcat": [
      {
        "width": 336, "height": 18,
        "view": {"stroke": null},
        "data": {"values": [{}]},
        "mark": {"type": "text", "text": "ASSESSMENT SCAT.DYN.EVAL PLOT [ug/m3]", "font": "Liberation Sans", "fontSize": 16.7, "align": "center", "baseline": "alphabetic", "color": "black"},
        "encoding": {
          "x": {"datum": 129, "type": "quantitative", "scale": {"domain": [0, 336], "nice": false, "zero": false}, "axis": null},
          "y": {"datum": 24, "type": "quantitative", "scale": {"domain": [0, 18], "reverse": true, "nice": false, "zero": false}, "axis": null}
        }
      },
      {
        "width": 336, "height": 257,
        "layer": [
          {"data": {"values": [{}]},
           "mark": {"type": "rule", "color": "black", "strokeWidth": 1.2, "strokeDash": [1.2, 3.3]},
           "encoding": {
             "x": {"datum": -25.6, "type": "quantitative", "scale": {"domain": [-25.6, 25.6], "nice": false, "zero": false},
                   "axis": {"orient": "bottom", "values": [-25,-24,-23,-22,-21,-20,-19,-18,-17,-16,-15,-14,-13,-12,-11,-10,-9,-8,-7,-6,-5,-4,-3,-2,-1,0,1,2,3,4,5,6,7,8,9,10,11,12,13,14,15,16,17,18,19,20,21,22,23,24,25], "tickSize": -3, "labels": false, "title": null}},
             "y": {"datum": -25.6, "type": "quantitative", "scale": {"domain": [-25.6, 25.6], "nice": false, "zero": false},
                   "axis": {"orient": "left", "values": [-25,-24,-23,-22,-21,-20,-19,-18,-17,-16,-15,-14,-13,-12,-11,-10,-9,-8,-7,-6,-5,-4,-3,-2,-1,0,1,2,3,4,5,6,7,8,9,10,11,12,13,14,15,16,17,18,19,20,21,22,23,24,25], "tickSize": -3, "labels": false, "title": null}},
             "x2": {"datum": 25.6},
             "y2": {"datum": 25.6}
           }},
          {"data": {"values": [{}]},
           "mark": {"type": "rule", "color": "black", "strokeWidth": 1.3, "strokeDash": [2, 2]},
           "encoding": {
             "x": {"datum": 0, "type": "quantitative", "scale": {"domain": [-25.6, 25.6], "nice": false, "zero": false},
                   "axis": {"orient": "top", "values": [-20,-10,0,10,20], "tickSize": -6, "labels": false, "title": null}}
           }},
          {"data": {"values": [{}]},
           "mark": {"type": "rule", "color": "black", "strokeWidth": 1.3, "strokeDash": [2, 2]},
           "encoding": {
             "y": {"datum": 0, "type": "quantitative", "scale": {"domain": [-25.6, 25.6], "nice": false, "zero": false},
                   "axis": {"orient": "right", "values": [-20,-10,0,10,20], "tickSize": -6, "labels": false, "title": null}}
           }},
          {"data": {"name": "ws"},
           "transform": [{"fold": ["CHIA","DEHMA","EMPA","ENSKCA","FMIA","GEMAQA","KNMA","MFMA","RIUA"], "as": ["model", "val"]}],
           "mark": {"type": "circle", "size": 30, "opacity": 1, "clip": true},
           "encoding": {
             "x": {"field": "obs", "type": "quantitative", "scale": {"domain": [-25.6, 25.6], "nice": false, "zero": false},
                   "axis": {"orient": "bottom", "values": [-20,-10,0,10,20], "tickSize": -6, "labelPadding": 11, "labelExpr": "'' + datum.value", "title": null}},
             "y": {"field": "val", "type": "quantitative", "scale": {"domain": [-25.6, 25.6], "nice": false, "zero": false},
                   "axis": {"orient": "left", "values": [-20,-10,0,10,20], "tickSize": -6, "labelPadding": 9, "labelExpr": "'' + datum.value", "title": null}},
             "color": {"field": "model", "type": "nominal", "scale": {"domain": ["CHIA","DEHMA","EMPA","ENSKCA","FMIA","GEMAQA","KNMA","MFMA","RIUA","label"], "range": ["#FF0000","#0000FF","#FFA500","#00FFFF","#FF00C8","#00B400","#9BFF00","#FFA8F0","#00BEFF","#000000"]}, "legend": null},
             "order": {"field": "model", "sort": "descending"}
           }},
          {"data": {"values": [{}]},
           "mark": {"type": "text", "text": "Winter-Summer", "font": "Liberation Sans", "fontSize": 17, "fontWeight": "bold", "align": "left", "baseline": "alphabetic", "color": "black"},
           "encoding": {
             "x": {"datum": -23.3, "type": "quantitative", "scale": {"domain": [-25.6, 25.6], "nice": false, "zero": false},
                   "axis": {"orient": "top", "values": [-25,-24,-23,-22,-21,-20,-19,-18,-17,-16,-15,-14,-13,-12,-11,-10,-9,-8,-7,-6,-5,-4,-3,-2,-1,0,1,2,3,4,5,6,7,8,9,10,11,12,13,14,15,16,17,18,19,20,21,22,23,24,25], "tickSize": -3, "labels": false, "title": null}},
             "y": {"datum": 21.4, "type": "quantitative", "scale": {"domain": [-25.6, 25.6], "nice": false, "zero": false},
                   "axis": {"orient": "right", "values": [-25,-24,-23,-22,-21,-20,-19,-18,-17,-16,-15,-14,-13,-12,-11,-10,-9,-8,-7,-6,-5,-4,-3,-2,-1,0,1,2,3,4,5,6,7,8,9,10,11,12,13,14,15,16,17,18,19,20,21,22,23,24,25], "tickSize": -3, "labels": false, "title": null}}
           }}
        ],
        "resolve": {"axis": {"x": "independent", "y": "independent"}}
      },
      {
        "width": 336, "height": 257,
        "layer": [
          {"data": {"values": [{}]},
           "mark": {"type": "rule", "color": "black", "strokeWidth": 1.2, "strokeDash": [1.2, 3.3]},
           "encoding": {
             "x": {"datum": -18.6, "type": "quantitative", "scale": {"domain": [-18.6, 18.6], "nice": false, "zero": false},
                   "axis": {"orient": "bottom", "values": [-18,-17,-16,-15,-14,-13,-12,-11,-10,-9,-8,-7,-6,-5,-4,-3,-2,-1,0,1,2,3,4,5,6,7,8,9,10,11,12,13,14,15,16,17,18], "tickSize": -3, "labels": false, "title": null}},
             "y": {"datum": -18.6, "type": "quantitative", "scale": {"domain": [-18.6, 18.6], "nice": false, "zero": false},
                   "axis": {"orient": "left", "values": [-18,-17,-16,-15,-14,-13,-12,-11,-10,-9,-8,-7,-6,-5,-4,-3,-2,-1,0,1,2,3,4,5,6,7,8,9,10,11,12,13,14,15,16,17,18], "tickSize": -3, "labels": false, "title": null}},
             "x2": {"datum": 18.6},
             "y2": {"datum": 18.6}
           }},
          {"data": {"values": [{}]},
           "mark": {"type": "rule", "color": "black", "strokeWidth": 1.3, "strokeDash": [2, 2]},
           "encoding": {
             "x": {"datum": 0, "type": "quantitative", "scale": {"domain": [-18.6, 18.6], "nice": false, "zero": false},
                   "axis": {"orient": "top", "values": [-10,0,10], "tickSize": -6, "labels": false, "title": null}}
           }},
          {"data": {"values": [{}]},
           "mark": {"type": "rule", "color": "black", "strokeWidth": 1.3, "strokeDash": [2, 2]},
           "encoding": {
             "y": {"datum": 0, "type": "quantitative", "scale": {"domain": [-18.6, 18.6], "nice": false, "zero": false},
                   "axis": {"orient": "right", "values": [-10,0,10], "tickSize": -6, "labels": false, "title": null}}
           }},
          {"data": {"name": "ww"},
           "transform": [{"fold": ["CHIA","DEHMA","EMPA","ENSKCA","FMIA","GEMAQA","KNMA","MFMA","RIUA"], "as": ["model", "val"]}],
           "mark": {"type": "circle", "size": 30, "opacity": 1, "clip": true},
           "encoding": {
             "x": {"field": "obs", "type": "quantitative", "scale": {"domain": [-18.6, 18.6], "nice": false, "zero": false},
                   "axis": {"orient": "bottom", "values": [-10,0,10], "tickSize": -6, "labelPadding": 11, "labelExpr": "'' + datum.value", "title": null}},
             "y": {"field": "val", "type": "quantitative", "scale": {"domain": [-18.6, 18.6], "nice": false, "zero": false},
                   "axis": {"orient": "left", "values": [-10,0,10], "tickSize": -6, "labelPadding": 9, "labelExpr": "'' + datum.value", "title": null}},
             "color": {"field": "model", "type": "nominal", "scale": {"domain": ["CHIA","DEHMA","EMPA","ENSKCA","FMIA","GEMAQA","KNMA","MFMA","RIUA","label"], "range": ["#FF0000","#0000FF","#FFA500","#00FFFF","#FF00C8","#00B400","#9BFF00","#FFA8F0","#00BEFF","#000000"]}, "legend": null},
             "order": {"field": "model", "sort": "descending"}
           }},
          {"data": {"values": [{}]},
           "mark": {"type": "text", "text": "Week-Weekend", "font": "Liberation Sans", "fontSize": 17, "fontWeight": "bold", "align": "left", "baseline": "alphabetic", "color": "black"},
           "encoding": {
             "x": {"datum": -16.94, "type": "quantitative", "scale": {"domain": [-18.6, 18.6], "nice": false, "zero": false},
                   "axis": {"orient": "top", "values": [-18,-17,-16,-15,-14,-13,-12,-11,-10,-9,-8,-7,-6,-5,-4,-3,-2,-1,0,1,2,3,4,5,6,7,8,9,10,11,12,13,14,15,16,17,18], "tickSize": -3, "labels": false, "title": null}},
             "y": {"datum": 15.56, "type": "quantitative", "scale": {"domain": [-18.6, 18.6], "nice": false, "zero": false},
                   "axis": {"orient": "right", "values": [-18,-17,-16,-15,-14,-13,-12,-11,-10,-9,-8,-7,-6,-5,-4,-3,-2,-1,0,1,2,3,4,5,6,7,8,9,10,11,12,13,14,15,16,17,18], "tickSize": -3, "labels": false, "title": null}}
           }}
        ],
        "resolve": {"axis": {"x": "independent", "y": "independent"}}
      }
    ]
  }
]
}
